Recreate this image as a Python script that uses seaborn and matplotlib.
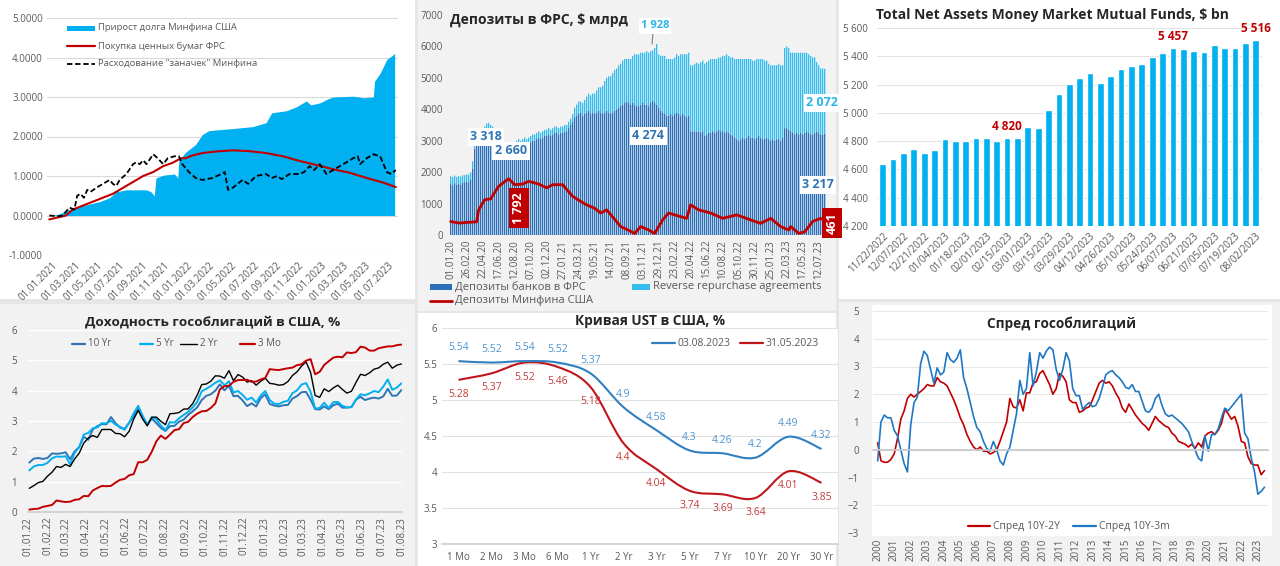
import numpy as np
import pandas as pd
import matplotlib
matplotlib.use("Agg")
import matplotlib.pyplot as plt
from matplotlib.patches import Rectangle, PathPatch
from matplotlib.lines import Line2D
from matplotlib.path import Path
import seaborn as sns

W, H = 1280, 566
GREY = '#595959'

# ---------------- panel 1: debt / Fed purchases / TGA spending (months since 01.01.2021)
debt_m = [-0.3, 0.5, 1.5, 2.7, 4.2, 5.1, 5.7, 6.6, 8.4, 8.8, 9.1, 9.25, 9.9, 10.9, 11.2, 11.3, 11.9, 12.8,
          13.4, 14.0, 16.1, 17.9, 19.1, 19.6, 20.9, 21.8, 22.7, 23.1, 23.9, 24.6, 25.1, 26.9, 27.8, 28.7,
          28.8, 29.3, 29.9, 30.6]
debt_v = [0.0, 0.03, 0.15, 0.25, 0.35, 0.45, 0.6, 0.65, 0.65, 0.6, 0.5, 0.95, 1.02, 1.05, 0.95, 1.4, 1.6, 1.8,
          2.05, 2.15, 2.2, 2.25, 2.35, 2.6, 2.65, 2.75, 2.9, 2.8, 2.85, 2.95, 3.0, 3.02, 2.98, 3.0,
          3.4, 3.6, 3.95, 4.1]
fed_m = [-0.3, 1.2, 1.8, 2.7, 3.6, 4.5, 5.4, 6.3, 7.2, 8.1, 9.0, 9.9, 10.7, 11.5, 11.9, 12.5, 13.4, 14.6,
         16.1, 17.6, 19.1, 20.6, 22.1, 23.6, 25.1, 26.6, 28.1, 29.6, 30.7]
fed_v = [-0.1, 0.0, 0.15, 0.25, 0.35, 0.45, 0.55, 0.7, 0.85, 1.0, 1.1, 1.25, 1.33, 1.45, 1.45, 1.52, 1.58, 1.62,
         1.65, 1.63, 1.58, 1.5, 1.38, 1.28, 1.17, 1.08, 0.95, 0.83, 0.72]
tga_m = [-0.3, 0.45, 0.9, 1.2, 1.5, 1.95, 2.2, 2.5, 2.8, 3.1, 3.4, 3.9, 4.5, 5.1, 5.4, 5.7, 6.0, 6.6, 7.2,
         7.5, 7.8, 8.1, 8.4, 9.0, 9.4, 9.9, 10.3, 10.9, 11.3, 11.6, 12.2, 12.8, 13.4, 14.3, 15.1, 15.4, 15.7,
         16.1, 17.0, 17.5, 18.2, 19.1, 19.6, 20.1, 20.5, 21.2, 22.1, 22.5, 23.0, 23.4, 23.9, 24.5, 25.1,
         26.0, 26.9, 27.3, 27.5, 28.1, 28.7, 29.3, 29.9, 30.3, 30.7]
tga_v = [0.0, -0.02, 0.0, 0.1, 0.2, 0.15, 0.5, 0.55, 0.45, 0.65, 0.6, 0.7, 0.8, 0.9, 0.8, 0.75, 0.9, 1.05, 1.3,
         1.35, 1.3, 1.4, 1.3, 1.55, 1.45, 1.3, 1.45, 1.5, 1.5, 1.3, 1.1, 0.95, 0.9, 0.95, 1.05, 1.1, 0.65,
         0.7, 0.9, 0.8, 1.0, 1.05, 0.95, 1.0, 0.92, 1.05, 1.05, 1.1, 1.25, 1.15, 1.3, 1.05, 1.15,
         1.3, 1.45, 1.5, 1.3, 1.45, 1.55, 1.5, 1.1, 1.05, 1.15]

# ---------------- panel 2: deposits at the Fed, weekly from 01.01.2020, $ bn
reserves = [1620, 1580, 1650, 1600, 1640, 1610, 1660, 1680,
            1700, 1680, 1750, 2100, 2750, 2900, 3000, 3050,
            3150, 3200, 3300, 3318, 3250, 3200, 3100, 3000,
            2900, 2850, 2800, 2750, 2700, 2700, 2660, 2700,
            2750, 2800, 2850, 2800, 2850, 2900, 2850, 2900,
            2950, 3000, 3000, 3050, 3100, 3050, 3100, 3150,
            3150, 3200, 3150, 3200, 3250, 3250, 3200, 3250,
            3250, 3300, 3300, 3400, 3500, 3600, 3750, 3800,
            3850, 3900, 3800, 3850, 3900, 3950, 3850, 3900,
            3850, 3900, 3950, 3900, 3850, 3900, 3950, 3900,
            3850, 3900, 3950, 4000, 4050, 4100, 4150, 4200,
            4250, 4200, 4150, 4200, 4150, 4100, 4100, 4150,
            4200, 4150, 4150, 4100, 4200, 4274, 4200, 4150,
            4050, 3950, 3900, 3850, 3800, 3800, 3850, 3800,
            3850, 3900, 3850, 3800, 3850, 3800, 3750, 3800,
            3300, 3300, 3300, 3280, 3300, 3250, 3300, 3150,
            3200, 3250, 3250, 3300, 3250, 3300, 3350, 3300,
            3300, 3250, 3300, 3250, 3200, 3150, 3100, 3050,
            3000, 3050, 3100, 3050, 3100, 3150, 3100, 3100,
            3050, 3100, 3150, 3100, 3050, 3050, 3100, 3050,
            3000, 3050, 3000, 3050, 3050, 3000, 3100, 3400,
            3400, 3350, 3300, 3250, 3200, 3250, 3200, 3250,
            3200, 3250, 3300, 3250, 3200, 3200, 3250, 3300,
            3250, 3200, 3200, 3217]
rrp = [250, 260, 240, 250, 240, 250, 240, 230,
       230, 250, 250, 250, 250, 250, 250, 250,
       250, 250, 250, 250, 250, 250, 250, 250,
       230, 220, 220, 210, 210, 200, 200, 200,
       200, 200, 200, 200, 200, 200, 200, 200,
       200, 200, 200, 200, 200, 200, 200, 200,
       200, 200, 200, 200, 200, 200, 200, 200,
       200, 200, 200, 200, 200, 250, 300, 350,
       400, 350, 400, 450, 500, 550, 600, 600,
       650, 700, 750, 800, 900, 1000, 1050, 1150,
       1200, 1250, 1300, 1300, 1350, 1350, 1400, 1400,
       1350, 1400, 1450, 1500, 1600, 1650, 1650, 1650,
       1600, 1650, 1700, 1700, 1650, 1600, 1750, 1928,
       1700, 1750, 1800, 1850, 1800, 1800, 1750, 1800,
       1800, 1850, 1850, 1950, 1900, 1950, 2000, 2000,
       2100, 2100, 2150, 2200, 2150, 2250, 2250, 2300,
       2300, 2300, 2350, 2300, 2350, 2300, 2300, 2350,
       2400, 2450, 2450, 2450, 2450, 2500, 2500, 2550,
       2600, 2550, 2500, 2550, 2500, 2450, 2500, 2450,
       2500, 2500, 2450, 2500, 2550, 2500, 2450, 2400,
       2400, 2350, 2400, 2350, 2400, 2400, 2300, 2550,
       2600, 2600, 2500, 2550, 2600, 2550, 2600, 2550,
       2600, 2550, 2500, 2500, 2500, 2450, 2400, 2200,
       2150, 2100, 2100, 2072]
tsy_week = [0, 4, 8, 13, 14, 17, 20, 24, 29, 32, 36, 39, 44, 48, 51, 56, 61, 65, 68, 72,
            75, 78, 82, 85, 89, 92, 95, 99, 102, 106, 109, 112, 118, 120, 124, 130, 136, 143, 150, 155,
            160, 165, 169, 170, 174, 177, 181, 185, 187]
tsy_dep = [430, 380, 400, 420, 800, 1120, 1150, 1550, 1792, 1600, 1620, 1710, 1620, 1500, 1600, 1600, 1230,
           1070, 960, 850, 700, 800, 500, 270, 150, 50, 270, 160, 50, 480, 700, 640, 530, 960, 800, 700,
           530, 640, 480, 370, 530, 270, 160, 270, 50, 100, 430, 530, 461]

# ---------------- panel 3: money market funds, $ bn
mmf_weeks = ['11/22/2022'] + list(pd.date_range('2022-11-30', periods=36, freq='7D').strftime('%m/%d/%Y'))
mmf_assets = [4640, 4671, 4718, 4742, 4716, 4735, 4817, 4803, 4803, 4820, 4824, 4803, 4820, 4820, 4898,
              4896, 5019, 5135, 5201, 5249, 5279, 5213, 5263, 5312, 5329, 5348, 5393, 5426, 5457, 5454,
              5435, 5433, 5478, 5459, 5461, 5492, 5516]
mmf_labelled = [12, 28, 36]

# ---------------- panel 4: treasury yields, weekly 2022-2023, %
y10 = [1.63, 1.76, 1.78, 1.75, 1.78, 1.93, 1.92, 1.93, 1.97, 1.74, 2.00, 2.14, 2.48, 2.38, 2.72, 2.83, 2.90,
       2.89, 3.13, 2.93, 2.78, 2.74, 2.94, 3.15, 3.40, 3.13, 2.88, 3.08, 2.93, 2.77, 2.67, 2.83, 2.84, 2.98,
       3.04, 3.20, 3.32, 3.45, 3.69, 3.83, 3.88, 4.00, 4.21, 4.01, 4.16, 3.82, 3.83, 3.68, 3.49, 3.58, 3.48,
       3.75,
       3.88, 3.56, 3.51, 3.48, 3.52, 3.53, 3.74, 3.82, 3.95, 3.96, 3.70, 3.39, 3.38, 3.48, 3.39, 3.52, 3.57,
       3.44, 3.44, 3.46, 3.70, 3.80, 3.69, 3.74, 3.77, 3.74, 3.81, 4.06, 3.83, 3.84, 4.02]
y5 = [1.37, 1.50, 1.55, 1.55, 1.62, 1.77, 1.83, 1.82, 1.84, 1.57, 1.95, 2.14, 2.55, 2.61, 2.76, 2.79, 2.93,
      2.92, 3.01, 2.88, 2.81, 2.71, 2.94, 3.25, 3.50, 3.17, 2.88, 3.13, 3.06, 2.85, 2.70, 2.96, 2.95, 3.09,
      3.20, 3.30, 3.45, 3.63, 3.98, 4.06, 4.15, 4.26, 4.34, 4.18, 4.31, 3.94, 3.99, 3.86, 3.70, 3.77, 3.61,
      3.84,
      3.99, 3.69, 3.57, 3.56, 3.63, 3.67, 3.92, 4.01, 4.20, 4.25, 3.96, 3.41, 3.43, 3.60, 3.43, 3.62, 3.63,
      3.50, 3.45, 3.46, 3.71, 3.88, 3.85, 3.91, 3.99, 3.95, 4.13, 4.37, 4.03, 4.10, 4.24]
y2 = [0.78, 0.87, 0.97, 1.01, 1.18, 1.31, 1.50, 1.47, 1.57, 1.50, 1.75, 1.94, 2.27, 2.44, 2.52, 2.46, 2.72,
      2.72, 2.72, 2.59, 2.58, 2.48, 2.66, 3.06, 3.35, 3.06, 2.84, 3.12, 3.13, 2.99, 2.88, 3.24, 3.25, 3.28,
      3.39, 3.40, 3.57, 3.85, 4.20, 4.22, 4.31, 4.49, 4.48, 4.41, 4.66, 4.33, 4.53, 4.45, 4.28, 4.33, 4.18,
      4.31,
      4.41, 4.24, 4.22, 4.18, 4.20, 4.30, 4.50, 4.62, 4.81, 4.95, 4.60, 3.84, 3.78, 4.06, 3.97, 4.09, 4.18,
      4.04, 3.92, 3.98, 4.27, 4.54, 4.50, 4.59, 4.71, 4.75, 4.87, 4.94, 4.74, 4.84, 4.88]
y3m = [0.08, 0.10, 0.11, 0.17, 0.20, 0.23, 0.38, 0.35, 0.33, 0.34, 0.40, 0.42, 0.53, 0.52, 0.71, 0.79, 0.86,
       0.85, 0.86, 0.97, 1.06, 1.09, 1.21, 1.25, 1.64, 1.64, 1.72, 1.99, 2.33, 2.52, 2.41, 2.55, 2.70, 2.73,
       2.93, 2.97, 3.13, 3.24, 3.32, 3.33, 3.43, 3.58, 4.04, 4.15, 4.16, 4.29, 4.35, 4.35, 4.36, 4.29, 4.30,
       4.37,
       4.42, 4.71, 4.69, 4.68, 4.71, 4.74, 4.76, 4.84, 4.87, 4.99, 5.04, 4.54, 4.62, 4.85, 4.97, 5.09, 5.12,
       5.10, 5.26, 5.24, 5.27, 5.45, 5.42, 5.32, 5.32, 5.40, 5.43, 5.46, 5.46, 5.50, 5.52]

# ---------------- panel 5: UST curve
tenors = ['1 Mo', '2 Mo', '3 Mo', '6 Mo', '1 Yr', '2 Yr', '3 Yr', '5 Yr', '7 Yr', '10 Yr', '20 Yr', '30 Yr']
curve_aug = [5.54, 5.52, 5.54, 5.52, 5.37, 4.9, 4.58, 4.3, 4.26, 4.2, 4.49, 4.32]
curve_may = [5.28, 5.37, 5.52, 5.46, 5.18, 4.4, 4.04, 3.74, 3.69, 3.64, 4.01, 3.85]

# ---------------- panel 6: spreads, every ~0.2 year from 2000
spread_2y = [0.25, -0.4, -0.45, -0.45, -0.35, -0.15, 0.4, 1.1, 1.4, 1.85, 2.0, 1.9, 2.0, 2.1, 2.2, 2.35,
             2.3, 2.3, 2.6, 2.45, 2.4, 2.3, 2.05, 1.8, 1.5, 1.15, 0.9, 0.55, 0.3, 0.1, 0.0, 0.1, -0.05,
             -0.05, -0.15, -0.1, 0.0, 0.3, 0.65, 1.0, 1.85, 1.55, 1.5, 1.8, 1.4, 2.05, 2.05, 2.4, 2.45,
             2.75, 2.85, 2.6, 2.35, 2.0, 2.2, 2.75, 2.65, 2.45, 1.8, 1.7, 1.7, 1.35, 1.4, 1.5, 1.55, 1.8,
             2.1, 2.4, 2.5, 2.4, 2.45, 2.3, 2.05, 1.85, 1.5, 1.35, 1.65, 1.45, 1.25, 1.1, 0.95, 0.85, 0.7,
             0.95, 1.2, 1.05, 0.95, 0.85, 0.8, 0.6, 0.5, 0.3, 0.25, 0.2, 0.1, 0.2, 0.05, 0.25, 0.1, 0.5,
             0.6, 0.65, 0.55, 0.7, 0.95, 1.45, 1.3, 1.1, 1.2, 0.85, 0.3, 0.25, -0.25, -0.5, -0.55, -0.55,
             -0.9, -0.75]
spread_3m = [-0.4, 1.0, 1.25, 1.15, 1.15, 0.7, 0.5, 0.0, -0.5, -0.8, 0.9, 1.7, 1.9, 3.1, 3.55, 3.4, 2.9,
             2.4, 2.95, 2.7, 2.8, 3.5, 3.25, 3.15, 3.3, 3.6, 2.6, 2.2, 1.7, 1.2, 0.8, 0.65, 0.3, 0.05, -0.05,
             0.3, 0.0, -0.4, -0.55, -0.15, 0.1, 0.7, 1.3, 2.5, 2.0, 2.2, 3.5, 2.3, 2.8, 3.5, 3.3, 3.55, 3.7,
             3.6, 2.9, 2.5, 2.9, 3.5, 3.2, 2.2, 1.95, 1.95, 1.45, 1.6, 1.7, 1.55, 1.6, 1.85, 2.25, 2.7, 2.8,
             2.85, 2.7, 2.6, 2.45, 2.25, 2.2, 2.35, 2.1, 2.1, 1.75, 1.4, 1.35, 1.5, 1.85, 2.0, 1.6, 1.3, 1.2,
             1.25, 1.15, 1.05, 0.95, 0.8, 0.65, 0.3, 0.0, -0.3, -0.4, 0.5, -0.05, 0.55, 0.55, 0.75, 1.15, 1.5,
             1.4, 1.55, 1.7, 1.85, 2.0, 0.6, 0.4, -0.3, -0.8, -1.6, -1.5, -1.35]


def add_ax(fig, x0, y0, x1, y1):
    # axes placed by pixel box (left, top, right, bottom)
    return fig.add_axes([x0 / W, 1 - y1 / H, (x1 - x0) / W, (y1 - y0) / H])


def ftext(fig, x, y, s, **kw):
    fig.text(x / W, 1 - y / H, s, **kw)


def panel_bg(fig, x0, y0, x1, y1, color):
    fig.add_artist(Rectangle((x0 / W, 1 - y1 / H), (x1 - x0) / W, (y1 - y0) / H,
                             transform=fig.transFigure, facecolor=color, edgecolor='none', zorder=-10))


def leg_line(fig, x0, x1, y, color, text, lw=1.6, ls='-', size=7.5):
    line = Line2D([x0 / W, x1 / W], [1 - y / H] * 2, color=color, lw=lw, ls=ls, transform=fig.transFigure)
    if ls == '--':
        line.set_dashes([3, 1.5])
    fig.add_artist(line)
    ftext(fig, x1 + 3, y, text, color=GREY, fontsize=size, va='center')


def leg_box(fig, x0, x1, y, h, color, text, size=7.5):
    fig.add_artist(Rectangle((x0 / W, 1 - (y + h / 2) / H), (x1 - x0) / W, h / H,
                             transform=fig.transFigure, facecolor=color, edgecolor='none'))
    ftext(fig, x1 + 3, y, text, color=GREY, fontsize=size, va='center')


def clean(ax):
    for s in ax.spines.values():
        s.set_visible(False)
    ax.tick_params(length=0, labelsize=7, colors=GREY)


def space_fmt(v):
    return f'{v:,.0f}'.replace(',', ' ')


def debt_panel(fig):
    ax = add_ax(fig, 47, 18, 398, 255)
    ax.set_facecolor('white')
    ax.set_axisbelow(True)
    ax.fill_between(debt_m, debt_v, 0, color='#00b0f0', lw=0)
    sns.lineplot(x=fed_m, y=fed_v, ax=ax, color='#c00000', lw=1.5)
    sns.lineplot(x=tga_m, y=tga_v, ax=ax, color='black', lw=1.3)
    ax.lines[-1].set_dashes([3, 1.5])
    ax.set_ylim(-1, 5)
    ax.set_xlim(-0.5, 30.9)
    ax.set_yticks(range(-1, 6))
    ax.set_yticklabels([f'{v:.4f}' for v in range(-1, 6)])
    ax.set_xticks(range(0, 31, 2))
    ax.set_xticklabels(pd.date_range('2021-01-01', periods=16, freq='2MS').strftime('%d.%m.%Y'),
                       rotation=45, ha='right', rotation_mode='anchor')
    ax.yaxis.grid(True, color='#d9d9d9', lw=0.8)
    clean(ax)
    ax.tick_params(axis='y', pad=3)
    ax.set_xlabel('')
    ax.set_ylabel('')
    leg_box(fig, 67, 95, 28, 5, '#00b0f0', 'Прирост долга Минфина США', size=6.8)
    leg_line(fig, 67, 95, 46, '#c00000', 'Покупка ценных бумаг ФРС', size=6.8)
    leg_line(fig, 67, 95, 64, 'black', 'Расходование "заначек" Минфина', lw=1.3, ls='--', size=6.8)


def fed_panel(fig):
    ax = add_ax(fig, 448, 15, 828, 235)
    ax.set_facecolor('#f2f2f2')
    weeks = np.arange(len(reserves))
    total = np.array(reserves) + np.array(rrp)
    # two pixels per week so every bar gets the same stripe
    ax.bar(weeks, reserves, width=0.65, color='#2a70b8', lw=0, snap=False)
    ax.bar(weeks, rrp, bottom=reserves, width=0.65, color='#33bdef', lw=0, snap=False)
    sns.lineplot(x=tsy_week, y=tsy_dep, ax=ax, color='#c00000', lw=2)
    ax.set_ylim(0, 7000)
    ax.set_xlim(-1.325, 188.675)
    ax.set_yticks(range(0, 7001, 1000))
    dates = pd.date_range('2020-01-01', periods=len(reserves), freq='7D')
    ax.set_xticks(weeks[::8])
    ax.set_xticklabels(dates[::8].strftime('%d.%m.%y'), rotation=90)
    clean(ax)
    ax.set_xlabel('')
    ax.set_ylabel('')
    ftext(fig, 450, 20, 'Депозиты в ФРС, $ млрд', fontsize=10, fontweight='bold', va='center')

    box = dict(boxstyle='square,pad=0.2', fc='white', ec='none')
    dark, light = '#2e75b6', '#29b6e8'
    i_max = int(np.argmax(reserves))
    ftext(fig, 486, 137, space_fmt(max(reserves[:40])), color=dark, fontsize=9, fontweight='bold',
          ha='center', va='center', bbox=box)
    ftext(fig, 511, 151, space_fmt(min(reserves[20:40])), color=dark, fontsize=9, fontweight='bold',
          ha='center', va='center', bbox=box)
    ftext(fig, 648, 136, space_fmt(reserves[i_max]), color=dark, fontsize=9, fontweight='bold',
          ha='center', va='center', bbox=box)
    ftext(fig, 818, 185, space_fmt(reserves[-1]), color=dark, fontsize=9, fontweight='bold',
          ha='center', va='center', bbox=box)
    ftext(fig, 822, 103, space_fmt(rrp[-1]), color=light, fontsize=9, fontweight='bold',
          ha='center', va='center', bbox=box)
    ftext(fig, 655, 26, space_fmt(rrp[int(np.argmax(total))]), color=light, fontsize=8, fontweight='bold',
          ha='center', va='center', bbox=box)
    fig.add_artist(Line2D([653 / W, 652 / W], [1 - 33 / H, 1 - 44 / H], color='#7f7f7f', lw=0.8,
                          transform=fig.transFigure))
    red_box = dict(boxstyle='square,pad=0.3', fc='#c00000', ec='none')
    ftext(fig, 519, 208, space_fmt(max(tsy_dep)), color='white', fontsize=9, fontweight='bold',
          rotation=90, ha='center', va='center', bbox=red_box)
    ftext(fig, 832, 223, space_fmt(tsy_dep[-1]), color='white', fontsize=9, fontweight='bold',
          rotation=90, ha='center', va='center', bbox=red_box)

    leg_box(fig, 430, 452, 287, 6, '#2a70b8', 'Депозиты банков в ФРС', size=8)
    leg_box(fig, 632, 650, 287, 6, '#33bdef', 'Reverse repurchase agreements', size=8)
    leg_line(fig, 430, 452, 301, '#c00000', 'Депозиты Минфина США', lw=2, size=8)


def mmf_panel(fig):
    ax = add_ax(fig, 877, 28, 1262, 226)
    ax.set_facecolor('white')
    ax.set_axisbelow(True)
    df = pd.DataFrame({'week': mmf_weeks, 'assets': mmf_assets})
    sns.barplot(data=df, x='week', y='assets', color='#00b0f0', saturation=1, width=0.65, ax=ax)
    ax.set_ylim(4200, 5600)
    ax.set_xlim(-0.55, 36.6)
    ax.set_yticks(range(4200, 5601, 200))
    ax.set_yticklabels([space_fmt(v) for v in range(4200, 5601, 200)])
    ax.set_xticks(range(0, len(mmf_weeks), 2))
    ax.set_xticklabels(mmf_weeks[::2], rotation=45, ha='right', rotation_mode='anchor')
    ax.yaxis.grid(True, color='#e3e3e3', lw=0.8)
    clean(ax)
    ax.tick_params(axis='y', pad=6.5)
    ax.set_xlabel('')
    ax.set_ylabel('')
    for i in mmf_labelled:
        ax.annotate(space_fmt(mmf_assets[i]), (i, mmf_assets[i]), xytext=(0, 8.5), textcoords='offset points',
                    ha='center', va='center', color='#c00000', fontsize=8.5, fontweight='bold')
    ftext(fig, 1052, 15, 'Total Net Assets Money Market Mutual Funds, $ bn', fontsize=10,
          fontweight='bold', ha='center', va='center')


def yields_panel(fig):
    ax = add_ax(fig, 28, 330, 402, 512)
    ax.set_facecolor('#f2f2f2')
    ax.set_axisbelow(True)
    dates = pd.date_range('2022-01-03', periods=len(y10), freq='7D')
    for vals, col, lw in [(y10, '#2e75b6', 1.4), (y5, '#00b0f0', 1.4), (y2, 'black', 1.0), (y3m, '#c00000', 1.4)]:
        sns.lineplot(x=dates, y=vals, ax=ax, color=col, lw=lw)
    ax.set_ylim(0, 6)
    ax.set_xlim(pd.Timestamp('2022-01-01'), pd.Timestamp('2023-08-01'))
    ticks = pd.date_range('2022-01-01', '2023-08-01', freq='MS')
    ax.set_xticks(ticks)
    ax.set_xticklabels(ticks.strftime('%d.%m.%y'), rotation=90)
    ax.yaxis.grid(True, color='white', lw=1)
    clean(ax)
    ax.spines['bottom'].set_visible(True)
    ax.spines['bottom'].set_color('#d0d0d0')
    ax.tick_params(axis='y', pad=8)
    ax.set_xlabel('')
    ax.set_ylabel('')
    ftext(fig, 213, 322, 'Доходность гособлигаций в США, %', fontsize=9.7, fontweight='bold',
          ha='center', va='center')
    leg_line(fig, 72, 85, 344, '#2e75b6', '10 Yr', size=7)
    leg_line(fig, 140, 153, 344, '#00b0f0', '5 Yr', size=7)
    leg_line(fig, 180, 197, 344, 'black', '2 Yr', lw=1.0, size=7)
    leg_line(fig, 240, 255, 344, '#c00000', '3 Mo', size=7)


def smooth_path(ys, t=1 / 6):
    # Excel-like smoothed line drawn as cubic Bezier segments through the points
    xs = list(range(len(ys)))
    verts, codes = [(xs[0], ys[0])], [Path.MOVETO]
    n = len(ys)
    for i in range(n - 1):
        p0 = (xs[max(i - 1, 0)], ys[max(i - 1, 0)])
        p1 = (xs[i], ys[i])
        p2 = (xs[i + 1], ys[i + 1])
        p3 = (xs[min(i + 2, n - 1)], ys[min(i + 2, n - 1)])
        c1 = (p1[0] + (p2[0] - p0[0]) * t, p1[1] + (p2[1] - p0[1]) * t)
        c2 = (p2[0] - (p3[0] - p1[0]) * t, p2[1] - (p3[1] - p1[1]) * t)
        verts += [c1, c2, p2]
        codes += [Path.CURVE4] * 3
    return Path(verts, codes)


def curve_panel(fig):
    ax = add_ax(fig, 442, 328, 838, 544)
    ax.set_facecolor('white')
    ax.set_axisbelow(True)
    blue, red = '#2f7fc1', '#c0151b'
    ax.add_patch(PathPatch(smooth_path(curve_may), fill=False, ec=red, lw=1.5))
    ax.add_patch(PathPatch(smooth_path(curve_aug), fill=False, ec=blue, lw=1.5))
    for i, (a, m) in enumerate(zip(curve_aug, curve_may)):
        ax.annotate(f'{a:g}', (i, a), xytext=(0, 9.5), textcoords='offset points', ha='center',
                    va='center', color='#4d94d0', fontsize=7.5)
        ax.annotate(f'{m:g}', (i, m), xytext=(0, -10.5), textcoords='offset points', ha='center',
                    va='center', color='#c43c3c', fontsize=7.5)
    ax.set_xlim(-0.5, len(tenors) - 0.5)
    ax.set_ylim(3, 6)
    ax.set_yticks(np.arange(3, 6.01, 0.5))
    ax.set_yticklabels([f'{v:g}' for v in np.arange(3, 6.01, 0.5)])
    ax.set_xticks(range(len(tenors)))
    ax.set_xticklabels(tenors)
    ax.set_xticks(np.arange(-0.5, len(tenors), 1), minor=True)
    ax.yaxis.grid(True, color='#e0e0e0', lw=0.8)
    clean(ax)
    ax.spines['bottom'].set_visible(True)
    ax.spines['bottom'].set_color('#d0d0d0')
    ax.tick_params(axis='x', which='minor', length=4, color='#d0d0d0')
    ax.tick_params(axis='x', pad=6)
    ftext(fig, 650, 321, 'Кривая UST в США, %', fontsize=9.8, fontweight='bold', ha='center', va='center')
    leg_line(fig, 652, 675, 343, blue, '03.08.2023', size=7.5)
    leg_line(fig, 740, 763, 343, red, '31.05.2023', size=7.5)


def spread_panel(fig):
    ax = add_ax(fig, 873, 311, 1268, 533)
    ax.set_facecolor('white')
    ax.set_axisbelow(True)
    # x axis crosses at zero; set this before the tick labels (it resets the ticks)
    ax.spines['bottom'].set_position(('data', 0))
    dates = pd.date_range('2000-01-01', periods=len(spread_2y), freq='73D')
    sns.lineplot(x=dates, y=spread_2y, ax=ax, color='#c00000', lw=1.2)
    sns.lineplot(x=dates, y=spread_3m, ax=ax, color='#1f77c4', lw=1.2)
    ax.set_ylim(-3, 5)
    ax.set_xlim(pd.Timestamp('1999-09-20'), pd.Timestamp('2023-08-07'))
    years = pd.date_range('2000-01-01', '2023-01-01', freq='YS')
    ax.set_xticks(years)
    ax.set_xticklabels(years.strftime('%Y'), rotation=90, va='top')
    ax.yaxis.grid(True, color='#e8e8e8', lw=0.8)
    clean(ax)
    ax.spines['bottom'].set_visible(True)
    ax.spines['bottom'].set_color('#c8c8c8')
    ax.tick_params(axis='x', length=4, direction='inout', color='#c8c8c8', pad=62)
    ax.tick_params(axis='y', pad=10)
    ax.set_xlabel('')
    ax.set_ylabel('')
    ftext(fig, 1062, 324, 'Спред гособлигаций', fontsize=9.8, fontweight='bold', ha='center', va='center')
    leg_line(fig, 968, 990, 526, '#c00000', 'Спред 10Y-2Y', size=7.5)
    leg_line(fig, 1073, 1096, 526, '#1f77c4', 'Спред 10Y-3m', size=7.5)


def main():
    sns.set_theme(style='white')
    plt.rcParams['font.family'] = ['Open Sans', 'DejaVu Sans']
    fig = plt.figure(figsize=(12.8, 5.66), dpi=100, facecolor='#e6e6e6')

    panel_bg(fig, 0, 0, 415, 299, 'white')
    panel_bg(fig, 418, 0, 836, 311, '#f2f2f2')
    panel_bg(fig, 839, 0, 1280, 299, 'white')
    panel_bg(fig, 0, 304, 415, 566, '#f2f2f2')
    panel_bg(fig, 418, 313, 836, 566, 'white')
    panel_bg(fig, 839, 302, 1280, 566, '#f2f2f2')
    panel_bg(fig, 872, 305, 1272, 536, 'white')

    debt_panel(fig)
    fed_panel(fig)
    mmf_panel(fig)
    yields_panel(fig)
    curve_panel(fig)
    spread_panel(fig)

    fig.savefig('out.png', dpi=100, facecolor=fig.get_facecolor())


if __name__ == "__main__":
    main()
